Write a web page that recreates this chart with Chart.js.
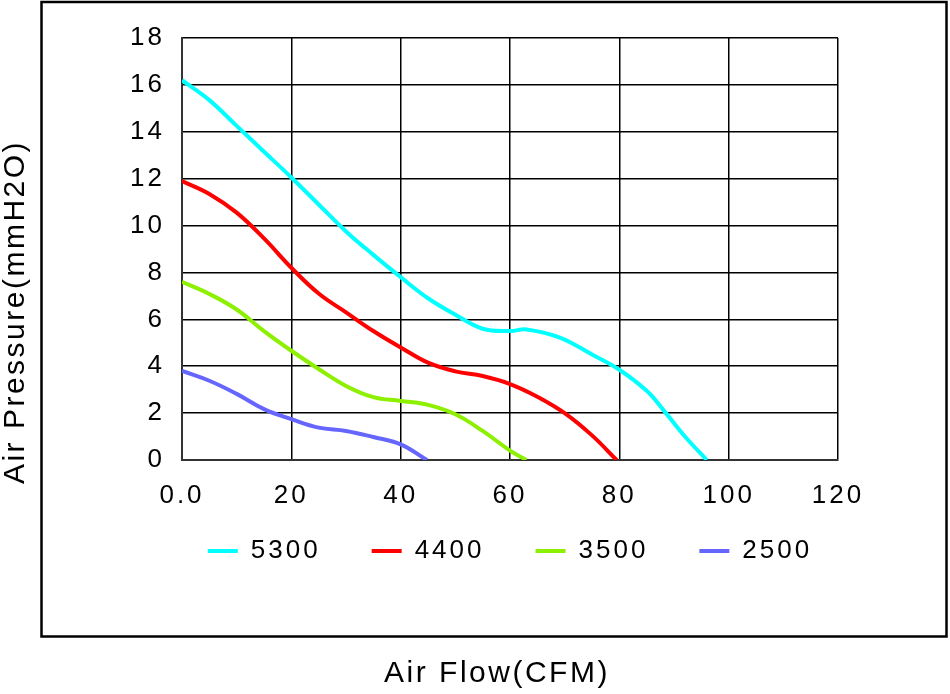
<!DOCTYPE html>
<html>
<head>
<meta charset="utf-8">
<title>Air Pressure vs Air Flow</title>
<script src="https://cdn.jsdelivr.net/npm/chart.js@4"></script>
<style>
    html, body { margin: 0; padding: 0; background: #fff; }
    #fanChart { display: block; }
</style>
</head>
<body>
<canvas id="fanChart" width="950" height="694"></canvas>
<script>
// Fan curves
const flow5300 = [0, 5, 10, 15, 20, 25, 30, 35, 40, 45, 50, 55, 60, 63, 69, 75, 80, 85, 88, 92, 96];
const pres5300 = [16.2, 15.35, 14.25, 13.15, 12.05, 10.9, 9.75, 8.75, 7.8, 6.9, 6.2, 5.6, 5.5, 5.57, 5.23, 4.5, 3.85, 2.95, 2.15, 1.0, 0];

const flow4400 = [0, 5, 10, 15, 20, 25, 30, 35, 40, 45, 50, 55, 60, 65, 70, 75, 79.5];
const pres4400 = [11.9, 11.35, 10.55, 9.45, 8.2, 7.1, 6.3, 5.5, 4.8, 4.15, 3.78, 3.58, 3.24, 2.7, 2.0, 1.05, 0];

const flow3500 = [0, 5, 10, 15, 20, 25, 30, 35, 40, 45, 50, 55, 60, 63];
const pres3500 = [7.6, 7.08, 6.42, 5.5, 4.66, 3.88, 3.16, 2.68, 2.52, 2.35, 1.95, 1.24, 0.4, 0];

const flow2500 = [0, 5, 10, 15, 20, 25, 30, 35, 40, 44.8];
const pres2500 = [3.8, 3.38, 2.82, 2.17, 1.74, 1.38, 1.24, 0.98, 0.67, 0];

const seriesLabels = ['5300', '4400', '3500', '2500'];
const seriesColors = ['#00FFFF', '#FF0000', '#8CF000', '#6666FF'];

const xTickMax = 120;
const xTickStep = 20;
const yTickMax = 18;
const yTickStep = 2;

const xTitle = 'Air Flow(CFM)';
const yTitle = 'Air Pressure(mmH2O)';

function toPoints(xs, ys) {
    return xs.map((x, i) => ({ x: x, y: ys[i] }));
}

const allFlows = [flow5300, flow4400, flow3500, flow2500];
const allPres = [pres5300, pres4400, pres3500, pres2500];

const datasets = seriesLabels.map((label, i) => ({
    label: label,
    data: toPoints(allFlows[i], allPres[i]),
    borderColor: seriesColors[i],
    backgroundColor: seriesColors[i],
    borderWidth: 4,
    pointRadius: 0,
    fill: false,
    tension: 0.4
}));

// canvas letter spacing, the reference text is tracked out a bit
const spacingPlugin = {
    id: 'spacing',
    beforeUpdate(chart) { chart.ctx.letterSpacing = '3px'; },
    beforeDraw(chart) { chart.ctx.letterSpacing = '3px'; }
};

// legend sits closer to the tick labels than chart.js would put it
const legendShift = {
    id: 'legendShift',
    afterLayout(chart) {
        const lg = chart.legend;
        if (!lg) return;
        const dy = 487 - lg.top;
        lg.top += dy;
        lg.bottom += dy;
    }
};

// outer frame and the two axis titles
const framePlugin = {
    id: 'frame',
    afterDraw(chart) {
        const ctx = chart.ctx;
        ctx.save();
        ctx.strokeStyle = '#000';
        ctx.lineWidth = 2.5;
        ctx.strokeRect(41.5, 2, 905, 634.5);

        ctx.fillStyle = '#000';
        ctx.font = '30px "Liberation Sans", Arial, sans-serif';
        ctx.letterSpacing = '2.5px';
        ctx.textAlign = 'center';
        ctx.textBaseline = 'middle';
        ctx.fillText(xTitle, 497, 674);

        ctx.translate(16, 312);
        ctx.rotate(-Math.PI / 2);
        ctx.fillText(yTitle, 0, 0);
        ctx.restore();
    }
};

Chart.defaults.font.family = '"Liberation Sans", Arial, sans-serif';
Chart.defaults.font.size = 26;
Chart.defaults.color = '#000';

document.addEventListener('DOMContentLoaded', function() {
    new Chart(document.getElementById('fanChart'), {
        type: 'line',
        data: { datasets: datasets },
        options: {
            responsive: false,
            animation: false,
            devicePixelRatio: 1,
            layout: {
                padding: { left: 70, top: 38, right: 0, bottom: 85 }
            },
            scales: {
                x: {
                    type: 'linear',
                    min: 0,
                    max: xTickMax,
                    ticks: {
                        stepSize: xTickStep,
                        padding: 20,
                        maxRotation: 0,
                        callback: v => v === 0 ? '0.0' : String(v)
                    },
                    grid: { color: '#000', lineWidth: 1.5, drawTicks: false },
                    border: { color: '#333', width: 2 },
                    afterFit(scale) { scale.height = 62; }
                },
                y: {
                    min: 0,
                    max: yTickMax,
                    ticks: { stepSize: yTickStep, padding: 17 },
                    grid: { color: '#000', lineWidth: 1.5, drawTicks: false },
                    border: { color: '#333', width: 2 },
                    afterFit(scale) { scale.width = 112; }
                },
                // empty right axis, only keeps room on the right
                y2: {
                    position: 'right',
                    display: true,
                    ticks: { display: false },
                    grid: { display: false, drawTicks: false },
                    border: { display: false },
                    afterFit(scale) { scale.width = 112; }
                }
            },
            plugins: {
                legend: {
                    position: 'bottom',
                    labels: {
                        usePointStyle: true,
                        pointStyle: 'line',
                        pointStyleWidth: 30,
                        padding: 51,
                        font: { size: 26 }
                    }
                },
                tooltip: { enabled: false }
            }
        },
        plugins: [spacingPlugin, legendShift, framePlugin]
    });
});
</script>
</body>
</html>
